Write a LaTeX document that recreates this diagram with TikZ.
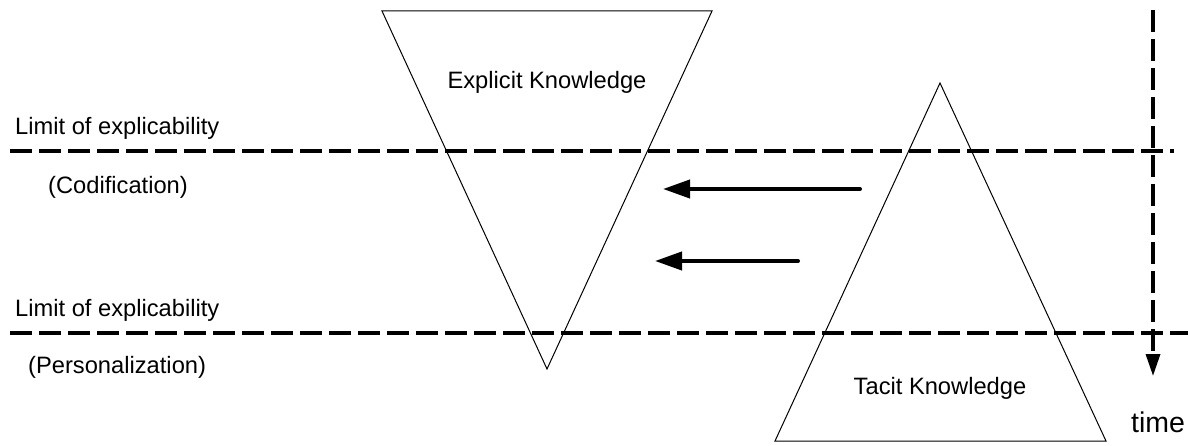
\documentclass[tikz,border=0pt]{standalone}
\usepackage{fontspec}
\setmainfont{Liberation Sans}
\usetikzlibrary{arrows.meta}
\begin{document}
\begin{tikzpicture}[x=1pt,y=-1pt,
  lbl/.style={font=\fontsize{23.7}{27}\selectfont, inner sep=0pt},
  tri/.style={draw, line width=1pt, line join=miter},
  limit/.style={line width=3.3pt, dash pattern=on 22pt off 7pt},
  flow/.style={line width=4pt, line cap=round, -{Triangle[length=27pt,width=18pt]}},
  timeline/.style={line width=3.3pt, dash pattern=on 22pt off 7pt, -{Triangle[length=22pt,width=14pt]}}]
\useasboundingbox (0,0) rectangle (1188,446);
% explicit triangle (inverted)
\coordinate (e1) at (382,11);
\coordinate (e2) at (712,11);
\coordinate (e3) at (547,369);
\draw[tri] (e1) -- (e2) -- (e3) -- cycle;
% tacit triangle
\coordinate (t1) at (940,83);
\coordinate (t2) at (1106,441);
\coordinate (t3) at (775,441);
\draw[tri] (t1) -- (t2) -- (t3) -- cycle;
% limit lines
\coordinate (l1a) at (10,151);
\coordinate (l1b) at (1174,151);
\coordinate (l2a) at (10,333);
\coordinate (l2b) at (1188,333);
\draw[limit] (l1a) -- (l1b);
\draw[limit] (l2a) -- (l2b);
% time line
\coordinate (ta) at (1153,10);
\coordinate (tb) at (1153,376);
\draw[timeline] (ta) -- (tb);
% arrows
\coordinate (a1s) at (860,189);
\coordinate (a1e) at (663,189);
\coordinate (a2s) at (798,261);
\coordinate (a2e) at (655,261);
\draw[flow] (a1s) -- (a1e);
\draw[flow] (a2s) -- (a2e);
% labels
\node[lbl] (explicit) at (547,82) {Explicit Knowledge};
\node[lbl] (tacit) at (940,388) {Tacit Knowledge};
\node[lbl, anchor=west] (lim1) at (15,128) {Limit of explicability};
\node[lbl, anchor=west] (lim2) at (15,310) {Limit of explicability};
\node[lbl, anchor=west] (cod) at (48,187) {(Codification)};
\node[lbl, anchor=west] (pers) at (28,367) {(Personalization)};
\node[lbl, anchor=west, font=\fontsize{28.5}{32}\selectfont] (time) at (1131,422) {time};
\end{tikzpicture}
\end{document}
